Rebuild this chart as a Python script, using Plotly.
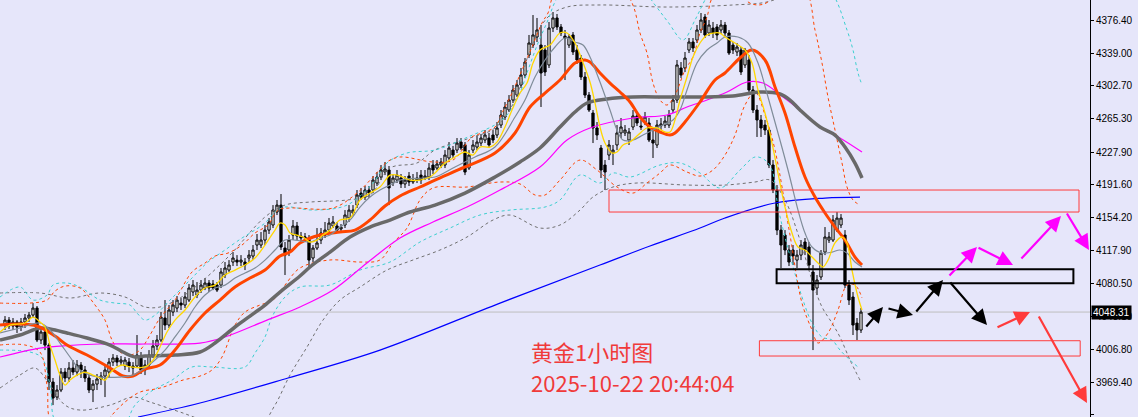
import plotly.graph_objects as go

BG = "#E6E6FA"

# ---------------- candle data (hourly bars, index 0..214) ----------------
OPEN = [4033.7,4039.3,4032.6,4037.1,4031.5,4037.1,4041.6,4044.9,4052.8,4016.9,
        4025.9,4011.2,3969.7,3952.8,3960.7,3980.9,3974.2,3985.4,3980.9,3988.8,
        3983.2,3974.2,3960.7,3967.4,3973.1,3976.4,3980.9,3992.1,3996.7,3992.1,
        3987.7,3992.1,3987.7,3987.7,3997.8,3983.2,3988.8,4000.0,4010.1,4016.9,
        4041.6,4033.7,4048.3,4052.8,4058.4,4056.2,4061.8,4070.8,4067.4,4073.0,
        4075.3,4080.9,4079.8,4078.6,4078.6,4089.9,4095.5,4104.5,4106.7,4104.5,
        4104.5,4109.0,4111.2,4123.6,4123.6,4129.2,4140.4,4146.1,4160.7,4168.5,
        4120.2,4118.0,4134.8,4145.0,4133.7,4131.5,4131.5,4109.0,4120.2,4129.2,
        4134.8,4140.4,4145.0,4145.0,4141.6,4146.1,4154.0,4159.6,4168.5,4182.0,
        4177.5,4185.4,4185.4,4193.3,4200.0,4205.6,4207.9,4193.3,4196.6,4198.9,
        4192.2,4201.1,4194.4,4196.6,4202.2,4198.9,4200.0,4213.5,4210.1,4213.5,
        4213.5,4221.4,4230.3,4230.3,4239.3,4236.0,4210.1,4230.3,4233.7,4238.2,
        4241.6,4243.8,4247.2,4247.2,4258.4,4267.4,4275.3,4286.5,4292.1,4303.4,
        4314.6,4337.1,4348.3,4357.3,4348.3,4342.7,4325.9,4367.4,4378.7,4368.6,
        4358.4,4348.3,4359.6,4342.7,4333.7,4312.4,4292.1,4271.9,4255.1,4232.6,
        4213.5,4224.7,4227.0,4236.0,4249.5,4249.5,4241.6,4256.2,4268.6,4257.3,
        4261.8,4260.7,4241.6,4236.0,4257.3,4258.4,4258.4,4275.3,4286.5,4322.5,
        4322.5,4342.7,4351.7,4353.9,4365.2,4379.8,4361.8,4367.4,4368.6,4365.2,
        4370.8,4361.8,4348.3,4340.5,4342.7,4325.9,4331.5,4297.8,4275.3,4264.1,
        4258.4,4252.8,4213.5,4185.4,4140.4,4134.8,4118.0,4118.0,4106.7,4112.3,
        4127.0,4121.4,4093.3,4075.3,4087.7,4115.7,4129.2,4129.2,4140.4,4146.1,
        4134.8,4078.6,4065.2,4035.9,4028.1]

CLOSE = [4039.3,4032.6,4037.1,4031.5,4037.1,4041.6,4044.9,4052.8,4016.9,4025.9,
         4011.2,3969.7,3951.7,3960.7,3980.9,3974.2,3985.4,3980.9,3988.8,3983.2,
         3974.2,3960.7,3967.4,3973.1,3976.4,3983.2,3992.1,3996.7,3992.1,3994.4,
         3994.4,3987.7,3985.4,4000.0,3983.2,3988.8,4000.0,4010.1,4016.9,4042.7,
         4033.7,4050.6,4056.2,4061.8,4056.2,4065.2,4075.3,4078.6,4073.0,4078.6,
         4080.9,4075.3,4075.3,4073.0,4093.3,4097.8,4101.1,4109.0,4104.5,4106.7,
         4101.1,4112.3,4118.0,4129.2,4129.2,4140.4,4149.5,4162.9,4168.5,4121.4,
         4112.3,4129.2,4145.0,4133.7,4131.5,4132.6,4106.7,4120.2,4125.9,4137.1,
         4140.4,4148.3,4149.5,4140.4,4143.8,4157.3,4162.9,4162.9,4179.8,4177.5,
         4185.4,4182.0,4196.6,4200.0,4207.9,4209.0,4187.7,4198.9,4202.2,4192.2,
         4196.6,4194.4,4196.6,4198.9,4196.6,4201.1,4210.1,4207.9,4214.6,4216.9,
         4224.7,4232.6,4224.7,4238.2,4232.6,4205.6,4224.7,4236.0,4239.3,4243.8,
         4247.2,4236.0,4241.6,4255.1,4269.7,4278.7,4286.5,4297.8,4303.4,4314.6,
         4329.2,4350.6,4359.6,4365.2,4316.9,4318.0,4367.4,4378.7,4368.6,4361.8,
         4356.2,4357.3,4340.5,4331.5,4312.4,4292.1,4275.3,4255.1,4247.2,4207.9,
         4205.6,4236.0,4230.3,4249.5,4256.2,4252.8,4250.6,4268.6,4260.7,4256.2,
         4267.4,4241.6,4238.2,4258.4,4259.6,4262.9,4269.7,4286.5,4325.9,4314.6,
         4333.7,4351.7,4345.0,4365.2,4376.4,4359.6,4370.8,4361.8,4359.6,4370.8,
         4361.8,4339.3,4342.7,4346.1,4318.0,4342.7,4297.8,4275.3,4264.1,4255.1,
         4252.8,4213.5,4185.4,4140.4,4123.6,4118.0,4104.5,4111.2,4112.3,4123.6,
         4118.0,4101.1,4073.0,4084.3,4114.6,4132.6,4132.6,4151.7,4153.9,4153.9,
         4078.6,4061.8,4033.7,4028.1,4048.31]

HIGH = [4043.8,4042.7,4041.6,4039.3,4041.6,4046.1,4048.3,4058.4,4055.1,4030.4,
        4030.4,4013.5,3974.2,3966.3,3985.4,3985.4,3992.1,3994.4,3994.4,3992.1,
        3987.7,3977.5,3971.9,3978.7,3980.9,3987.7,3996.7,4001.1,4000.0,3998.9,
        3997.8,3996.7,3992.1,4022.5,4003.4,3994.4,4005.6,4016.9,4022.5,4048.3,
        4061.8,4056.2,4061.8,4066.3,4064.0,4070.8,4079.8,4084.3,4082.0,4084.3,
        4086.5,4084.3,4084.3,4082.0,4097.8,4104.5,4106.7,4115.8,4112.3,4112.3,
        4109.0,4118.0,4123.6,4136.0,4138.2,4146.1,4154.0,4168.5,4174.2,4180.9,
        4127.0,4134.8,4151.7,4149.5,4138.2,4137.1,4134.8,4123.6,4142.7,4142.7,
        4149.5,4154.0,4156.2,4149.5,4147.2,4162.9,4168.5,4168.5,4185.4,4187.7,
        4189.9,4189.9,4201.1,4205.6,4213.5,4216.9,4212.4,4203.4,4207.9,4203.4,
        4201.1,4205.6,4203.4,4205.6,4207.9,4207.9,4215.7,4219.1,4219.1,4221.4,
        4230.3,4239.3,4234.9,4243.8,4243.8,4239.3,4230.3,4241.6,4246.1,4248.3,
        4252.8,4249.5,4252.8,4261.8,4275.3,4284.3,4292.1,4303.4,4309.0,4322.5,
        4333.7,4359.6,4382.0,4378.7,4370.8,4348.3,4374.2,4385.4,4383.2,4371.9,
        4365.2,4360.7,4362.9,4348.3,4337.1,4318.0,4295.5,4275.3,4261.8,4236.0,
        4219.1,4241.6,4236.0,4258.4,4266.3,4258.4,4255.1,4275.3,4273.1,4264.1,
        4273.1,4266.3,4252.8,4264.1,4266.3,4268.6,4275.3,4292.1,4331.5,4329.2,
        4340.5,4356.2,4356.2,4370.8,4384.3,4383.2,4376.4,4374.2,4371.9,4376.4,
        4374.2,4365.2,4351.7,4350.6,4346.1,4345.0,4337.1,4302.3,4280.9,4269.7,
        4264.1,4255.1,4219.1,4191.0,4146.1,4140.4,4123.6,4123.6,4118.0,4129.2,
        4131.5,4127.0,4101.1,4089.9,4118.0,4143.8,4138.2,4157.3,4160.7,4158.4,
        4140.4,4084.3,4070.8,4041.6,4052.8]

LOW = [4028.1,4029.2,4028.1,4024.8,4027.0,4030.4,4037.1,4041.6,4014.6,4012.4,
       4005.6,3960.7,3943.8,3949.5,3958.4,3969.7,3969.7,3977.5,3976.4,3974.2,
       3969.7,3957.3,3947.2,3960.7,3966.3,3952.8,3974.2,3987.7,3987.7,3987.7,
       3983.2,3980.9,3977.5,3985.4,3978.7,3977.5,3985.4,3996.7,4005.6,4014.6,
       4028.1,4030.4,4043.8,4048.3,4050.6,4052.8,4059.6,4066.3,4064.0,4069.7,
       4073.0,4070.8,4073.0,4070.8,4075.3,4086.5,4093.3,4100.0,4100.0,4100.0,
       4095.5,4104.5,4106.7,4118.0,4120.2,4123.6,4136.0,4142.7,4157.3,4118.0,
       4089.9,4111.2,4129.2,4129.2,4127.0,4127.0,4097.8,4104.5,4118.0,4124.7,
       4131.5,4137.1,4142.7,4137.1,4137.1,4142.7,4149.5,4156.2,4165.2,4174.2,
       4174.2,4176.4,4182.0,4189.9,4196.6,4202.2,4168.5,4189.9,4193.3,4187.7,
       4187.7,4189.9,4192.2,4193.3,4192.2,4196.6,4196.6,4203.4,4207.9,4210.1,
       4210.1,4219.1,4221.4,4227.0,4230.3,4202.2,4207.9,4227.0,4230.3,4234.9,
       4238.2,4232.6,4238.2,4243.8,4255.1,4264.1,4273.1,4283.2,4289.9,4300.0,
       4311.3,4333.7,4345.0,4351.7,4278.7,4313.5,4322.5,4362.9,4365.2,4358.4,
       4309.0,4345.0,4337.1,4327.0,4309.0,4288.8,4273.1,4238.2,4241.6,4198.9,
       4185.4,4219.1,4213.5,4230.3,4243.8,4246.1,4236.0,4252.8,4257.3,4252.8,
       4258.4,4239.3,4221.4,4232.6,4252.8,4255.1,4255.1,4271.9,4283.2,4311.3,
       4318.0,4339.3,4340.5,4350.6,4361.8,4356.2,4358.4,4356.2,4353.9,4360.7,
       4358.4,4337.1,4338.2,4336.0,4314.6,4322.5,4292.1,4271.9,4245.0,4245.0,
       4247.2,4210.1,4182.0,4134.8,4097.8,4112.3,4100.0,4101.1,4097.8,4106.7,
       4112.3,4095.5,4005.6,4067.4,4084.3,4112.3,4125.9,4127.0,4138.2,4142.7,
       4075.3,4056.2,4022.5,4016.9,4024.8]

LAST_PRICE = 4048.31

# ---------------- indicator lines, (bar index, price) ----------------
MA_FAST = [(-1.25,4025.9),(1.25,4033.7),(5,4036.0),(7,4042.7),(8.75,4037.1),(10,4031.5),(11.25,4011.2),
           (12.5,3994.4),(13.75,3977.5),(15,3966.3),(16.25,3971.9),(18,3977.5),(20,3980.9),(22,3977.5),
           (23.75,3974.2),(25,3971.9),(26.25,3979.8),(28,3986.6),(29.5,3988.8),(31.25,3986.6),(35,3986.6),
           (37,3994.4),(38.75,4009.0),(40.5,4025.9),(42.5,4039.3),(45,4050.6),(47.5,4065.2),(50,4075.3),
           (52.5,4078.6),(55,4089.9),(57.5,4095.5),(60,4101.1),(62.5,4109.0),(65,4123.6),(67.5,4140.4),
           (68.75,4148.3),(70,4146.1),(71.25,4137.1),(73,4134.8),(74.5,4132.6),(76.25,4127.0),(78,4129.2),
           (79.5,4134.8),(81.25,4140.4),(83.75,4151.7),(86.25,4153.9),(88.75,4174.2),(91.25,4182.0),
           (93.75,4188.8),(96.25,4202.2),(98,4202.2),(99.5,4200.0),(101.25,4196.6),(103.75,4196.6),
           (106.25,4200.0),(107.5,4204.5),(110,4215.7),(112.5,4222.5),(115,4228.1),(117,4224.7),
           (118.75,4233.7),(121.25,4233.7),(123,4239.3),(125,4256.2),(126.75,4275.3),(128.75,4294.4),
           (130.5,4305.6),(132,4328.1),(133.75,4342.7),(136.25,4348.3),(138.75,4361.8),(140.5,4361.8),
           (142.5,4350.6),(144.25,4331.5),(146.25,4306.8),(147.5,4283.2),(148.75,4256.2),(150,4238.2),
           (151.75,4227.0),(153,4228.1),(154.5,4236.0),(156.25,4239.3),(158.25,4247.2),(160.5,4255.1),
           (163,4255.1),(165,4250.6),(166.25,4250.6),(167.5,4264.1),(168.75,4286.5),(170.5,4312.4),
           (172,4334.9),(173.75,4350.6),(175.5,4359.6),(177,4361.8),(178.75,4361.8),(180,4357.3),
           (182.5,4350.6),(185,4342.7),(186.75,4328.1),(188.25,4297.8),(190,4271.9),(191.75,4238.2),
           (193.25,4204.5),(195,4166.3),(196.75,4137.1),(198.25,4121.4),(200,4118.0),(201.75,4110.1),
           (203.25,4103.4),(204.5,4098.9),(205.75,4106.7),(207.5,4125.9),(209.25,4132.6),(210.5,4125.9),
           (211.75,4095.5),(213.25,4065.2),(214.25,4050.6)]

MA_SLOW_THIN = [(-1.25,4024.8),(3.75,4030.4),(8.75,4036.0),(11.25,4028.1),(13.75,4013.5),(16.25,3997.8),
                (18.75,3983.2),(21.25,3977.5),(23.75,3975.3),(28.75,3975.3),(32,3977.5),(35,3985.4),
                (37.5,3994.4),(40,4005.6),(42.5,4020.3),(45,4036.0),(47.5,4054.0),(50,4067.4),(52.5,4075.3),
                (55,4078.6),(57.5,4086.5),(60,4092.2),(62.5,4097.8),(65,4106.7),(67.5,4118.0),(70,4129.2),
                (72.5,4129.2),(76.25,4127.0),(78.75,4131.5),(81.25,4134.8),(83.75,4143.8),(86.25,4151.7),
                (88.75,4166.3),(91.25,4177.5),(93.75,4185.4),(96.25,4191.0),(98.75,4196.6),(104.5,4198.9),
                (107.5,4200.0),(112.5,4211.3),(117.5,4222.5),(122.5,4233.7),(127.5,4267.4),(130,4286.5),
                (132.5,4312.4),(135,4331.5),(137.5,4346.1),(140,4356.2),(142.5,4351.7),(144.5,4348.3),
                (146.25,4334.9),(148.75,4306.8),(151.25,4275.3),(153,4252.8),(154.5,4241.6),(157,4241.6),
                (159.5,4247.2),(162,4252.8),(164.5,4258.4),(167,4264.1),(168.75,4275.3),(170.5,4297.8),
                (173,4328.1),(175.5,4342.7),(178,4350.6),(180,4357.3),(183.25,4357.3),(185.75,4350.6),
                (188.25,4328.1),(190.75,4289.9),(193.25,4249.5),(195.75,4207.9),(198.25,4162.9),
                (200,4137.1),(201.75,4121.4),(204.25,4114.6),(206.75,4115.7),(208.75,4118.0),
                (210.5,4114.6),(212.5,4104.5),(214.25,4098.9)]

MA_ORANGE = [(-1.25,4033.7),(3.75,4034.9),(8,4032.6),(12.5,4021.4),(15.5,4011.2),(20.5,4000.0),
             (26.25,3985.4),(29.5,3976.4),(32,3976.4),(35,3984.3),(38.75,3988.8),(42.5,4005.6),
             (46.25,4028.1),(50,4047.2),(53.75,4061.8),(57.5,4076.4),(61.25,4086.5),(65,4095.5),
             (68.75,4111.2),(71.25,4115.7),(73.75,4125.9),(78.75,4134.8),(83.75,4138.2),(87.5,4140.4),
             (91.25,4151.7),(95,4167.4),(98.75,4178.7),(103.75,4188.8),(107.5,4196.6),(115,4211.3),
             (122.5,4227.0),(127.5,4249.5),(131.25,4278.7),(135,4294.4),(138.75,4309.0),(142.5,4328.1),
             (145,4331.5),(146.25,4329.2),(148.75,4316.9),(151.25,4305.6),(153.75,4295.5),
             (156.25,4284.3),(158.75,4267.4),(161.25,4256.2),(163.75,4250.6),(166.25,4247.2),
             (167.5,4249.5),(170,4261.8),(173.75,4284.3),(177.5,4309.0),(180,4316.9),(183.75,4333.7),
             (186.75,4342.7),(190,4331.5),(192.5,4301.2),(195,4271.9),(197.5,4233.7),(200,4200.0),
             (202.5,4177.5),(205,4159.6),(207.5,4143.8),(210,4129.2),(212.5,4110.1),(214.25,4101.1)]

MA_GRAY = [(-1.25,4016.9),(3.75,4022.5),(8.75,4030.4),(11.25,4029.2),(15.5,4024.8),(20.5,4019.1),
           (26.25,4011.2),(29.5,4003.4),(32.5,3997.8),(35,3998.9),(42.5,4000.0),(48.75,4003.4),
           (52.5,4013.5),(57.5,4031.5),(61.25,4043.8),(65,4056.2),(68.75,4070.8),(73.75,4088.8),
           (76.25,4098.9),(81.25,4115.7),(86.25,4132.6),(91.25,4143.8),(96.25,4151.7),(101.25,4160.7),
           (107.5,4168.5),(115,4182.0),(122.5,4200.0),(128.75,4216.9),(133.75,4232.6),(138.75,4256.2),
           (142.5,4273.1),(145.5,4283.2),(150.5,4287.7),(157,4289.9),(165.5,4289.9),(173.75,4289.9),
           (182,4291.0),(188.75,4295.5),(193.75,4293.3),(196.25,4286.5),(198.75,4275.3),(203.75,4256.2),
           (207.5,4247.2),(210,4233.7),(212.5,4215.7),(214.25,4198.9)]

MA_MAGENTA = [(-1.25,3997.8),(8.75,4007.8),(13.75,4010.1),(23.75,4012.4),(35,4012.4),(48.75,4013.5),
              (55,4020.3),(65.5,4039.3),(73.75,4054.0),(82,4073.0),(90.5,4103.4),(98.75,4131.5),
              (107,4149.5),(115.5,4166.3),(123.75,4185.4),(133.75,4211.3),(140.5,4241.6),(146.25,4255.1),
              (157,4266.3),(165.5,4269.7),(170.5,4278.7),(175.5,4286.5),(180.5,4295.5),(185.5,4306.8),
              (189.5,4305.6),(194.5,4289.9),(198.75,4275.3),(203.75,4256.2),(208.75,4243.9),(214.25,4228.1)]

MA_BLUE = [(33.25,3930.4),(48.75,3946.1),(70.75,3974.2),(93.75,4005.6),(123.75,4058.4),(148.75,4101.1),
           (161.25,4122.5),(173.75,4142.7),(180,4154.0),(192.5,4170.8),(205,4176.4),(213.75,4177.5)]

BAND_ORANGE_UP = [(-1.25,4058.4),(6.25,4058.4),(10.5,4061.8),(12.5,4071.9),(15,4077.5),(18.75,4075.3),
                  (22.5,4056.2),(25,4039.3),(26.75,4016.9),(28.75,4003.4),(31.25,4000.0),(33.75,4005.6),
                  (36.25,4022.5),(38.75,4041.6),(42.5,4061.8),(46.75,4093.3),(50,4103.4),(52.5,4111.2),
                  (55.75,4114.6),(59.25,4123.6),(62.5,4137.1),(65.75,4146.1),(68.25,4162.9),(71.25,4165.2),
                  (82,4165.2),(88,4182.0),(92,4200.0),(95.5,4216.9),(98.75,4222.5),(107,4216.9),
                  (112,4219.1),(116.75,4245.0),(119.25,4249.5),(122.5,4256.2),(124.25,4271.9),
                  (126.75,4294.4),(129.25,4320.2),(131.75,4346.1),(134.25,4373.1),(135.75,4384.3),
                  (137.75,4407.9),(148.75,4415.8),(155.75,4402.3),(157.25,4389.9),(158.75,4361.8),
                  (160.5,4339.3),(162,4305.6),(163.75,4286.5),(165.5,4280.9),(167.5,4292.2),(170,4320.2),
                  (172,4334.9),(173.75,4361.8),(175.5,4379.8),(177,4402.3),(182.5,4415.8),(185.75,4396.7),
                  (188.25,4393.3),(190.75,4396.7),(193.75,4415.8),(200,4410.1),(202.5,4365.2),
                  (204.25,4328.1),(205.75,4289.9),(207.5,4252.8),(209.25,4215.8),(210.5,4188.8),
                  (212,4174.2),(213.75,4168.5)]

BAND_ORANGE_DN = [(-1.25,4011.3),(5,4011.3),(8.75,4003.4),(10.5,3966.3),(12,3921.4),(23.75,3915.8),
                  (26.75,3932.6),(30,3947.2),(33.75,3958.4),(38.75,3962.9),(44.5,3971.9),(48.75,3976.4),
                  (51.75,3983.2),(54.25,3997.8),(57.5,4033.7),(60,4048.3),(63.75,4056.2),(67,4061.8),
                  (70,4078.7),(73.75,4097.8),(81.25,4106.8),(88.75,4104.5),(93.75,4106.8),(97,4125.9),
                  (100.5,4142.7),(103.75,4174.2),(107,4187.7),(115.5,4188.8),(123.75,4194.4),
                  (128.75,4192.2),(132.5,4179.8),(135,4179.8),(138.75,4196.6),(143.75,4219.1),
                  (148,4207.9),(153,4188.8),(157,4182.0),(160.5,4193.3),(163.75,4204.5),(166.25,4213.5),
                  (170.5,4205.6),(173.75,4201.1),(177,4207.9),(180,4224.7),(182.5,4247.2),(185,4280.9),
                  (187.5,4295.5),(190,4269.7),(192.5,4230.4),(196.25,4134.8),(199.25,4058.4),
                  (201.75,4028.1),(203.25,4013.5),(205.75,4024.7),(208.25,4050.6),(210.5,4078.7),
                  (212.5,4078.7),(214.25,4064.1)]

BAND_CYAN_UP = [(-1.25,4065.2),(3.75,4076.4),(7,4061.8),(10.5,4067.4),(12,4078.7),(15.5,4080.9),
                (18.75,4076.4),(23.75,4061.8),(27.5,4058.4),(31.25,4056.2),(33,4047.2),(35,4039.3),
                (37.5,4044.9),(41.25,4061.8),(46.25,4084.3),(50.75,4104.5),(55,4118.0),(59.25,4131.5),
                (62.5,4140.5),(65,4148.3),(67.5,4160.7),(70,4166.3),(77,4162.9),(85.5,4168.5),(92,4193.3),
                (95.5,4215.8),(100.5,4227.0),(107.5,4230.4),(115.75,4245.0),(124.25,4264.1),
                (128.25,4289.9),(130.75,4320.2),(133.25,4350.6),(135.75,4376.4),(137.75,4398.9),
                (142.5,4427.0),(156.25,4427.0),(162.5,4393.3),(165.75,4374.2),(169.5,4354.0),
                (172.5,4376.4),(175,4398.9),(178.75,4427.0),(198.75,4432.6),(206.25,4410.1),
                (210.5,4365.2),(212,4342.7),(213.25,4316.9),(214.25,4303.4)]

BAND_CYAN_DN = [(-1.25,4005.6),(6.25,4003.4),(9.25,3996.7),(11.25,3966.3),(13.25,3921.4),(28.75,3915.8),
                (32.5,3943.8),(36.25,3958.4),(41.75,3971.9),(46.75,3986.6),(51.75,3986.6),(60,3986.6),
                (62.5,4002.3),(65,4020.2),(66.75,4042.7),(70,4065.2),(73.75,4076.4),(81.25,4078.7),
                (88.75,4095.5),(96.25,4104.5),(103.75,4127.0),(111.25,4142.7),(118.75,4157.3),
                (126.25,4162.9),(135,4166.3),(138.75,4174.2),(143.75,4202.3),(148.75,4193.3),
                (152,4204.5),(156.25,4200.0),(163.75,4213.5),(168.75,4215.8),(173.75,4204.5),
                (178.75,4187.7),(183.75,4207.9),(187.5,4222.5),(190,4219.1),(191.75,4207.9),
                (193.25,4166.3),(195,4132.6),(196.75,4103.4),(199.25,4065.2),(201.75,4036.0),
                (204.25,4020.2),(206.75,4016.9),(208.75,4005.6),(211.25,3994.4),(213.25,3986.6)]

BAND_GRAY_UP = [(-1.25,4069.7),(8.75,4069.7),(16.25,4064.1),(23.75,4069.7),(30,4065.2),(35,4054.0),
                (38.75,4054.0),(43.75,4064.1),(48.75,4080.9),(56.25,4112.4),(65,4155.1),(70,4168.5),
                (76.25,4171.9),(85.5,4174.2),(91.25,4179.8),(96.25,4210.1),(103,4215.8),(107.5,4230.4),
                (116.25,4243.9),(122.5,4255.1),(127.5,4286.5),(131.25,4342.7),(135.75,4379.8),
                (140.5,4391.0),(148.75,4393.3),(165.5,4391.0),(182,4393.3),(190.5,4396.7),
                (198.75,4410.1),(214.25,4421.4)]

BAND_GRAY_DN = [(-1.25,3962.9),(3.75,3977.6),(7.5,3985.4),(11.25,3966.3),(15,3943.8),(18.75,3938.2),
                (26.25,3943.8),(32,3952.8),(36.25,3947.2),(43.75,3936.0),(53.75,3921.4),(63.75,3921.4),
                (67.5,3943.8),(71.25,3977.6),(75.5,4009.0),(79.5,4039.3),(83.75,4061.8),(88.75,4076.4),
                (95.5,4095.5),(102,4106.8),(108.75,4118.0),(115.5,4132.6),(122,4151.7),(126.25,4157.3),
                (133.75,4142.7),(138.75,4146.1),(143.75,4162.9),(147,4177.6),(152,4188.8),(158,4193.3),
                (170.5,4191.0),(180,4191.0),(187.5,4194.4),(191.25,4196.6),(195,4174.2),(198.75,4129.2),
                (201.75,4084.3),(204.25,4054.0),(206.75,4036.0),(208.75,4020.2),(211.25,3994.4),
                (213.75,3971.9)]

# zones: (x_start, x_end, price_low, price_high, colour, width)
ZONES = [(151.0, 268.5, 4160.7, 4185.4, "#FF3B3B", 1),
         (192.9, 267.1, 4080.6, 4096.3, "#000000", 2),
         (188.6, 268.8, 3998.9, 4016.1, "#FF3B3B", 1)]

# forecast arrows: (tail_x, tail_y, head_x, head_y, colour)
ARROWS = [(215.0, 4030.4, 219.5, 4053.9, "#000000"),
          (220.5, 4052.8, 227.0, 4045.0, "#000000"),
          (227.5, 4047.2, 234.5, 4084.3, "#000000"),
          (236.0, 4083.2, 245.5, 4033.7, "#000000"),
          (235.75, 4087.7, 243.0, 4121.4, "#FF00FF"),
          (243.0, 4121.4, 252.0, 4101.1, "#FF00FF"),
          (253.75, 4106.7, 264.0, 4156.2, "#FF00FF"),
          (265.25, 4160.7, 271.0, 4118.0, "#FF00FF"),
          (247.75, 4030.4, 256.25, 4048.3, "#FF3B3B"),
          (258.25, 4045.0, 270.5, 3946.1, "#FF3B3B")]

TITLE_TEXT = "黄金1小时图"
TIME_TEXT = "2025-10-22 20:44:04"
TEXT_X = 131.0
TITLE_Y = 4004.0
TIME_Y = 3969.9

TICK_VALUES = [4376.40, 4339.00, 4302.70, 4265.30, 4227.90, 4191.60, 4154.20,
               4117.90, 4080.50, 4043.10, 4006.80, 3969.40, 3933.10]

Y_RANGE = [3930.4, 4398.9]
X_RANGE = [-1.25, 271.25]

# ---------------- figure ----------------
fig = go.Figure()

fig.add_trace(go.Candlestick(
    x=list(range(len(OPEN))), open=OPEN, high=HIGH, low=LOW, close=CLOSE,
    increasing=dict(line=dict(color="#000000", width=1), fillcolor="#FFFFFF"),
    decreasing=dict(line=dict(color="#000000", width=1), fillcolor="#000000"),
    whiskerwidth=0, hoverinfo="skip", showlegend=False))


def add_line(pts, color, width, dash=None, shape="linear"):
    fig.add_trace(go.Scatter(
        x=[p[0] for p in pts], y=[p[1] for p in pts], mode="lines",
        line=dict(color=color, width=width, dash=dash, shape=shape),
        hoverinfo="skip", showlegend=False))


DASH = "3px,3px"
add_line(BAND_GRAY_UP, "#707070", 1, DASH, "spline")
add_line(BAND_GRAY_DN, "#707070", 1, DASH, "spline")
add_line(BAND_CYAN_UP, "#3CCFCF", 1, DASH, "spline")
add_line(BAND_CYAN_DN, "#3CCFCF", 1, DASH, "spline")
add_line(BAND_ORANGE_UP, "#FF4500", 1, DASH, "spline")
add_line(BAND_ORANGE_DN, "#FF4500", 1, DASH, "spline")
add_line(MA_BLUE, "#0000FF", 1.2, None, "spline")
add_line(MA_MAGENTA, "#FF00FF", 1.2, None, "spline")
add_line(MA_GRAY, "#696969", 3.5, None, "spline")
add_line(MA_ORANGE, "#FF4500", 3, None, "spline")
add_line(MA_SLOW_THIN, "#7F8C99", 1.2, None, "spline")
add_line(MA_FAST, "#FFD700", 1.3, None, "spline")

shapes = [dict(type="line", xref="paper", x0=0, x1=1, yref="y", y0=LAST_PRICE, y1=LAST_PRICE,
               line=dict(color="#BEBEBE", width=1), layer="below")]
for x0, x1, y0, y1, col, w in ZONES:
    shapes.append(dict(type="rect", xref="x", yref="y", x0=x0, x1=x1, y0=y0, y1=y1,
                       line=dict(color=col, width=w), fillcolor="rgba(0,0,0,0)"))

annotations = []
for tx, ty, hx, hy, col in ARROWS:
    annotations.append(dict(x=hx, y=hy, ax=tx, ay=ty, xref="x", yref="y", axref="x", ayref="y",
                            showarrow=True, arrowhead=2, arrowsize=1.4, arrowwidth=2.2,
                            arrowcolor=col, text=""))
annotations.append(dict(x=TEXT_X, y=TITLE_Y, xref="x", yref="y", text=TITLE_TEXT, showarrow=False,
                        xanchor="left", yanchor="middle",
                        font=dict(family="Noto Sans CJK SC", size=22, color="#F03A3A")))
annotations.append(dict(x=TEXT_X, y=TIME_Y, xref="x", yref="y", text=TIME_TEXT, showarrow=False,
                        xanchor="left", yanchor="middle",
                        font=dict(family="Noto Sans CJK SC", size=22, color="#F03A3A")))
annotations.append(dict(x=1, y=LAST_PRICE, xref="paper", yref="y", text=f"{LAST_PRICE:.2f}",
                        showarrow=False, xanchor="left", yanchor="middle", xshift=1,
                        bgcolor="#000000", borderpad=1,
                        font=dict(family="Liberation Sans", size=10, color="#FFFFFF")))

fig.update_layout(
    width=1138, height=417,
    margin=dict(l=0, r=48, t=0, b=0),
    paper_bgcolor=BG, plot_bgcolor=BG,
    showlegend=False, hovermode=False, boxgap=0.2,
    shapes=shapes, annotations=annotations,
    xaxis=dict(range=X_RANGE, visible=False, showgrid=False, zeroline=False,
               rangeslider=dict(visible=False), fixedrange=True),
    yaxis=dict(range=Y_RANGE, side="right", showgrid=False, zeroline=False,
               tickvals=TICK_VALUES, ticktext=[f"{v:.2f}" for v in TICK_VALUES],
               ticks="outside", ticklen=3, tickcolor="#000000", tickwidth=1,
               showline=True, linecolor="#000000", linewidth=1, mirror=False,
               tickfont=dict(family="Liberation Sans", size=10, color="#000000"),
               fixedrange=True),
)

fig.write_html("out.html", config={"displayModeBar": False},
               post_script="document.body.style.margin='0';document.body.style.background='%s';" % BG)
